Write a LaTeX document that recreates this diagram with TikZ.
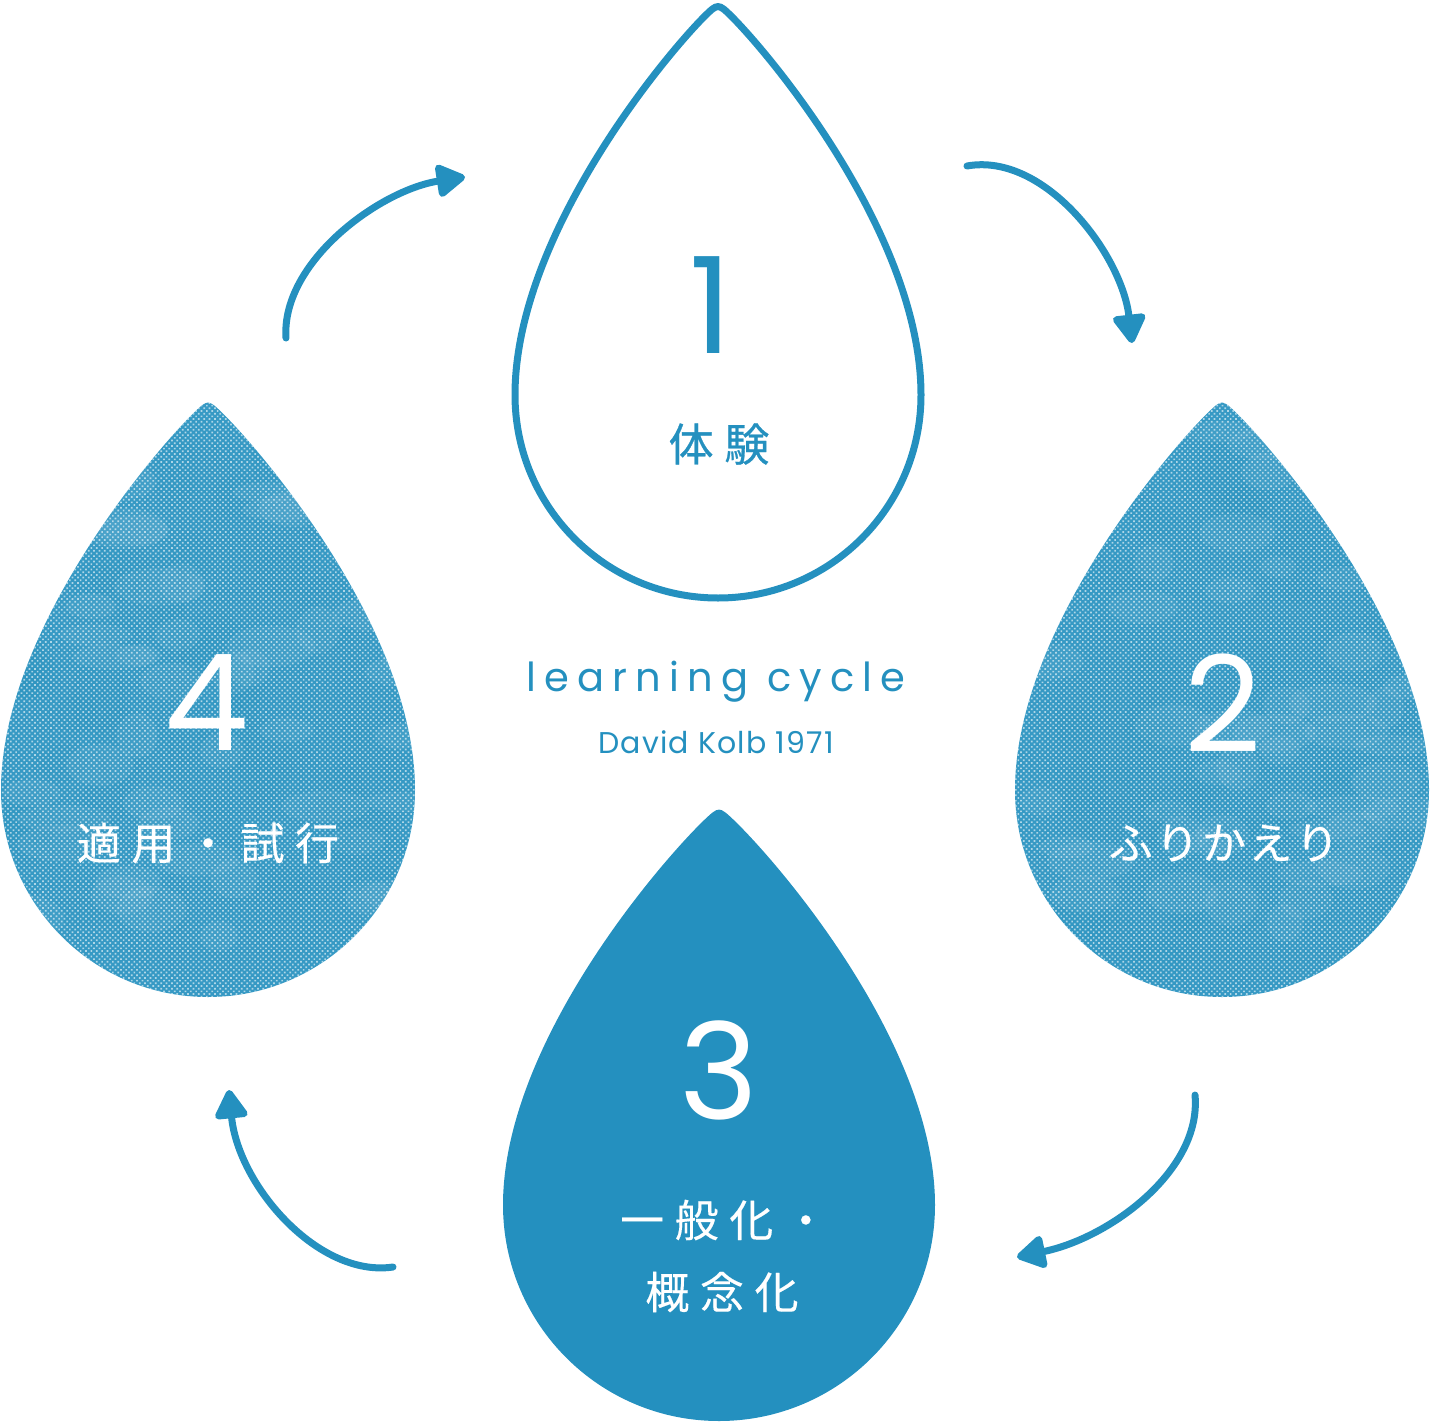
\documentclass[tikz,border=0pt]{standalone}
\usepackage{fontspec}
\usetikzlibrary{arrows.meta,patterns.meta}
\newfontfamily\latinf{Poppins}
\newfontfamily\jpf{Noto Sans CJK JP}[FakeBold=0.25]
\newfontfamily\jpbf{Noto Sans CJK JP}[FakeBold=0.6]
\definecolor{kb}{RGB}{36,144,191}
\newcommand\jk{\kern0.24em}
\newcommand\kk{\kern0.06em}
% drop outline: cx, cy (circle centre), r, d (tip height above centre)
\newcommand\droppath[4]{(#1-0.07*#3,#2-0.969*#4) .. controls (#1,#2-1.005*#4) .. (#1+0.07*#3,#2-0.969*#4) .. controls (#1+0.29*#3,#2-0.853*#4) and (#1+#3,#2-0.4*#4) .. (#1+#3,#2) arc[start angle=0,end angle=180,radius=#3] .. controls (#1-#3,#2-0.4*#4) and (#1-0.29*#3,#2-0.853*#4) .. (#1-0.07*#3,#2-0.969*#4) -- cycle}
% soft light/dark mottling inside a textured drop
\newcommand\mottle[2]{%
  \foreach \i in {1,...,60}{%
    \pgfmathsetmacro\xx{#1+rand*200}%
    \pgfmathsetmacro\yy{#2-150+rand*330}%
    \pgfmathsetmacro\rw{18+30*rnd}%
    \pgfmathsetmacro\rh{10+14*rnd}%
    \fill[white, opacity=0.05] (\xx,\yy) ellipse [x radius=\rw, y radius=\rh];
    \pgfmathsetmacro\xx{#1+rand*200}%
    \pgfmathsetmacro\yy{#2-150+rand*330}%
    \fill[kb, opacity=0.07] (\xx,\yy) ellipse [x radius=\rh+8, y radius=\rw-6];
  }}
\begin{document}
\begin{tikzpicture}[x=0.5pt,y=-0.5pt,
  dropline/.style={draw=kb, line width=3.5pt, line join=round},
  dropsolid/.style={fill=kb},
  dropbase/.style={fill=kb!92!white},
  droptex/.style={pattern={Dots[distance=1.9pt,radius=0.6pt,angle=45]}, pattern color=white, fill opacity=0.6},
  arr/.style={draw=kb, line width=3.5pt, line cap=round, -{Triangle[length=16pt,width=18pt,round]}},
  num/.style={font={\fontsize{67pt}{67pt}\latinf}, inner sep=0pt},
  jp/.style={font={\fontsize{22pt}{26pt}\jpf}, inner sep=0pt},
  jpb/.style={font={\fontsize{22.5pt}{26pt}\jpbf}, inner sep=0pt},
]
\useasboundingbox (0,0) rectangle (1430,1424);
\pgfmathsetseed{11}

% drop 1 (outline)
\draw[dropline] \droppath{718}{395}{203}{390};
% drop 2 (texture)
\fill[dropbase] \droppath{1222}{790}{207}{389};
\begin{scope}
  \clip \droppath{1222}{790}{207}{389};
  \mottle{1222}{790}
\end{scope}
\fill[droptex] \droppath{1222}{790}{207}{389};
% drop 4 (texture)
\fill[dropbase] \droppath{208}{790}{207}{389};
\begin{scope}
  \clip \droppath{208}{790}{207}{389};
  \mottle{208}{790}
\end{scope}
\fill[droptex] \droppath{208}{790}{207}{389};
% drop 3 (solid)
\fill[dropsolid] \droppath{719}{1205}{216}{397};

% texts
\node[num, text=kb] (n1) at (711,305) {1};
\node[jpb, text=kb] (t1) at (719,444) {体\jk 験};
\node[inner sep=0pt, text=kb, font={\fontsize{20pt}{24pt}\latinf\addfontfeatures{LetterSpace=20.5}}] (lc) at (716,682) {learning cycle};
\node[inner sep=0pt, text=kb, font={\fontsize{15pt}{18pt}\latinf\addfontfeatures{LetterSpace=4}}] (dk) at (716,742) {David Kolb 1971};

\node[num, text=white] (n2) at (1223,703) {2};
\node[jp, text=white] (t2) at (1224,843) {ふ\kk り\kk か\kk え\kk り};
\node[num, text=white] (n3) at (719,1070) {3};
\node[jp, text=white] (t3a) at (724,1220) {一\jk 般\jk 化\jk ・};
\node[jp, text=white] (t3b) at (722,1292) {概\jk 念\jk 化};
\node[num, text=white] (n4) at (207,703) {4};
\node[jp, text=white] (t4) at (208,843) {適\jk 用\jk ・\jk 試\jk 行};

% arrows
\coordinate (a1s) at (286,338); \coordinate (a1e) at (465,177);
\coordinate (a2s) at (967,166); \coordinate (a2e) at (1132,343);
\coordinate (a3s) at (1195,1095); \coordinate (a3e) at (1017,1257);
\coordinate (a4s) at (393,1267); \coordinate (a4e) at (229,1090);
\draw[arr] (a1s) .. controls (281,262) and (380,190) .. (a1e);
\draw[arr] (a2s) .. controls (1045,152) and (1122,255) .. (a2e);
\draw[arr] (a3s) .. controls (1202,1170) and (1110,1238) .. (a3e);
\draw[arr] (a4s) .. controls (318,1278) and (238,1185) .. (a4e);
\end{tikzpicture}
\end{document}
